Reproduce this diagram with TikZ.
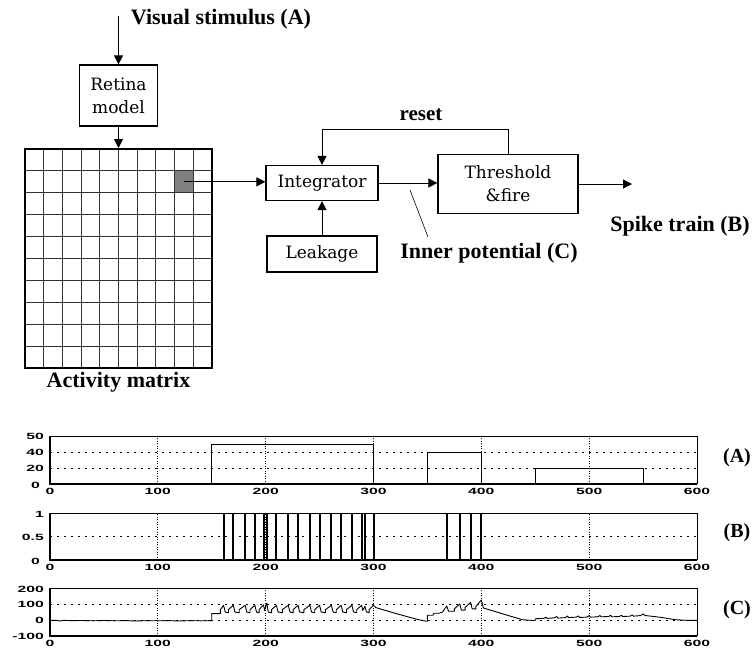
\documentclass[tikz,border=0pt]{standalone}
\usepackage{fontspec}
\usepackage{graphicx}
\setmainfont{Liberation Serif}
\newfontfamily\boxfont{DejaVu Serif}
\newfontfamily\tickfont{Liberation Sans}
\usetikzlibrary{arrows.meta}
\newcommand{\tk}[1]{\scalebox{1.75}[1]{\tickfont\bfseries\fontsize{9}{10}\selectfont #1}}
\begin{document}
\begin{tikzpicture}[x=1pt,y=-1pt,
 box/.style={draw, line width=1.2pt, inner sep=0pt, align=center, font=\boxfont\fontsize{17}{23}\selectfont},
 lbl/.style={font=\bfseries\fontsize{22}{26}\selectfont, inner sep=0pt},
 plbl/.style={font=\bfseries\fontsize{20}{24}\selectfont, inner sep=0pt},
 arr/.style={-{Triangle[length=9pt,width=9pt]}, line width=1pt},
 gridv/.style={line width=0.7pt, dash pattern=on 1pt off 1.5pt},
 gridh/.style={line width=0.7pt, dash pattern=on 2pt off 5pt},
 tick/.style={inner sep=0pt},
 ytick/.style={inner sep=0pt, anchor=east},
 trace/.style={line width=0.9pt, line join=round}]
\useasboundingbox (0,0) rectangle (752,648);

% ---------- top block diagram ----------
\node[lbl] (stim) at (221,19) {Visual stimulus (A)};
\coordinate (stimtop) at (118.5,16);
\node[box, minimum width=78pt, minimum height=61pt] (retina) at (118.5,95.5) {Retina\\model};

% activity matrix
\node[fill=black!50, minimum width=18.7pt, minimum height=21.9pt, inner sep=0pt] (cell) at (183.95,181.85) {};
\foreach \i in {1,...,9} {
  \draw[line width=1pt, black!80] (25+18.7*\i,149) -- (25+18.7*\i,368);
  \draw[line width=1pt, black!80] (25,149+21.9*\i) -- (212,149+21.9*\i);
}
\node[draw, line width=2pt, minimum width=187pt, minimum height=219pt, inner sep=0pt] (matrix) at (118.5,258.5) {};
\node[lbl] (actlbl) at (118.5,382) {Activity matrix};

\draw[arr] (stimtop) -- (retina.north);
\draw[arr] (retina.south) -- (matrix.north);

\node[box, minimum width=112pt, minimum height=35pt] (integ) at (322,183) {Integrator};
\node[box, minimum width=140pt, minimum height=59pt] (thr) at (508,184) {Threshold\\\&fire};
\node[box, minimum width=110pt, minimum height=36pt] (leak) at (322,254) {Leakage};

\draw[arr] (cell.center) -- (cell.center -| integ.west);
\draw[arr] (leak.north) -- (integ.south);
\draw[arr] (integ.east) -- (integ.east -| thr.west);
\draw[arr] (thr.north) -- ++(0,-24) -| (integ.north);
\node[lbl, font=\bfseries\fontsize{21}{25}\selectfont] (reset) at (421,115) {reset};
\coordinate (out) at (632,184);
\draw[arr] (thr.east) -- (out);
\node[lbl] (spike) at (680,226) {Spike train (B)};
\node[lbl] (inner) at (489,253) {Inner potential (C)};
\coordinate (lead1) at (410,190);
\coordinate (lead2) at (428,237);
\draw[line width=0.6pt] (lead1) -- (lead2);

% ---------- plot A ----------
\begin{scope}[shift={(50,484)}, xscale=1.07833, yscale=-0.8]
 \foreach \t in {100,200,...,500} \draw[gridv] (\t,0) -- (\t,60);
 \foreach \v in {20,40} \draw[gridh] (0,\v) -- (600,\v);
 \draw[trace] (0,0) -- (150,0) -- (150,50) -- (300,50) -- (300,0) -- (350,0) -- (350,40) -- (400,40) -- (400,0) -- (450,0) -- (450,20) -- (550,20) -- (550,0) -- (600,0);
 \draw[line width=0.9pt] (0,60) -- (600,60) -- (600,0);
 \draw[line width=1.6pt] (0,60) -- (0,0) -- (600,0);
\end{scope}
\foreach \k/\lab in {0/0,1/100,2/200,3/300,4/400,5/500,6/600}
  \node[tick] (ax\k) at (50+107.833*\k,491.5) {\tk{\lab}};
\node[ytick] (ay1) at (44,436) {\tk{50}};
\node[ytick] (ay2) at (44,452) {\tk{40}};
\node[ytick] (ay3) at (44,468) {\tk{20}};
\node[ytick] (ay4) at (40,485) {\tk{0}};
\node[plbl] (la) at (737,458) {(A)};

% ---------- plot B ----------
\begin{scope}[shift={(50,560)}, xscale=1.07833, yscale=-47]
 \foreach \t in {100,200,...,500} \draw[gridv] (\t,0) -- (\t,1);
 \draw[gridh] (0,0.5) -- (600,0.5);
 \foreach \t in {161,170,181,190,198,201,210,221,230,241,250,261,270,280,289,292,300,368,380,390,400}
   \draw[line width=2pt] (\t,0) -- (\t,1);
 \draw[line width=0.9pt] (0,1) -- (600,1) -- (600,0);
 \draw[line width=1.6pt] (0,1) -- (0,0) -- (600,0);
\end{scope}
\foreach \k/\lab in {0/0,1/100,2/200,3/300,4/400,5/500,6/600}
  \node[tick] (bx\k) at (50+107.833*\k,567.5) {\tk{\lab}};
\node[ytick] (by1) at (44,514) {\tk{1}};
\node[ytick] (by2) at (44,537) {\tk{0.5}};
\node[ytick] (by3) at (40,561) {\tk{0}};
\node[plbl] (lb) at (737,533) {(B)};

% ---------- plot C ----------
\begin{scope}[shift={(50,620)}, xscale=1.07833, yscale=-0.16]
 \foreach \t in {100,200,...,500} \draw[gridv] (\t,-100) -- (\t,200);
 \foreach \v in {0,100} \draw[gridh] (0,\v) -- (600,\v);
 \draw[trace] (0,-2) -- (5,-2) -- (10,-6) -- (12,-2) -- (20,-4) -- (30,-3) -- (40,-5) -- (50,-3) -- (60,-5) -- (70,-4) -- (80,-6) -- (90,-4) -- (100,-5) -- (110,-4) -- (120,-6) -- (130,-4) -- (140,-5) -- (150,-4)
  -- (150,40) -- (158,40) -- (158,65) -- (161,92)
  -- (162.5,50) -- (165.5,45) -- (165.5,65) -- (170,92)
  -- (171.5,50) -- (175.5,45) -- (175.5,65) -- (181,92)
  -- (182.5,50) -- (185.5,45) -- (185.5,65) -- (190,92)
  -- (191.5,50) -- (194,45) -- (194,65) -- (198,95)
  -- (199,60) -- (201,105)
  -- (202.5,50) -- (205.5,45) -- (205.5,65) -- (210,92)
  -- (211.5,50) -- (215.5,45) -- (215.5,65) -- (221,92)
  -- (222.5,50) -- (225.5,45) -- (225.5,65) -- (230,92)
  -- (231.5,50) -- (235.5,45) -- (235.5,65) -- (241,92)
  -- (242.5,50) -- (245.5,45) -- (245.5,65) -- (250,92)
  -- (251.5,50) -- (255.5,45) -- (255.5,65) -- (261,92)
  -- (262.5,50) -- (265.5,45) -- (265.5,65) -- (270,92)
  -- (271.5,50) -- (275,45) -- (275,65) -- (280,92)
  -- (281.5,50) -- (284.5,45) -- (284.5,65) -- (289,92)
  -- (290,60) -- (292,85)
  -- (293.5,50) -- (296,45) -- (296,65) -- (300,92)
  -- (302,78) -- (320,42) -- (340,5) -- (349,-8) -- (350,-8)
  -- (350,30) -- (355,30) -- (356,42) -- (361,42) -- (364,50) -- (368,88)
  -- (369.5,55) -- (375,55) -- (375,70) -- (380,100)
  -- (381.5,62) -- (385,62) -- (385,78) -- (390,110)
  -- (391.5,70) -- (395,70) -- (395,85) -- (400,125)
  -- (402,75) -- (420,38) -- (438,2) -- (448,-3) -- (450,-3)
  -- (450,8) -- (458,10) -- (460,18) -- (461,10) -- (468,14) -- (470,22) -- (471,12) -- (478,15) -- (480,25) -- (481,15) -- (488,18) -- (490,25) -- (491,16) -- (498,18) -- (500,28) -- (501,18) -- (508,20) -- (510,28) -- (511,20) -- (518,22) -- (520,30) -- (521,20) -- (528,22) -- (530,30) -- (531,22) -- (538,24) -- (540,32) -- (541,24) -- (548,28) -- (550,38) -- (552,28) -- (565,18) -- (580,2) -- (590,-2) -- (600,-2);
 \draw[line width=0.9pt] (0,200) -- (600,200) -- (600,-100);
 \draw[line width=1.6pt] (0,200) -- (0,-100) -- (600,-100);
\end{scope}
\foreach \k/\lab in {0/0,1/100,2/200,3/300,4/400,5/500,6/600}
  \node[tick] (cx\k) at (50+107.833*\k,643.5) {\tk{\lab}};
\node[ytick] (cy1) at (44,589) {\tk{200}};
\node[ytick] (cy2) at (44,604) {\tk{100}};
\node[ytick] (cy3) at (44,620) {\tk{0}};
\node[ytick] (cy4) at (44,636) {\tk{-100}};
\node[plbl] (lc) at (737,610) {(C)};
\end{tikzpicture}
\end{document}
